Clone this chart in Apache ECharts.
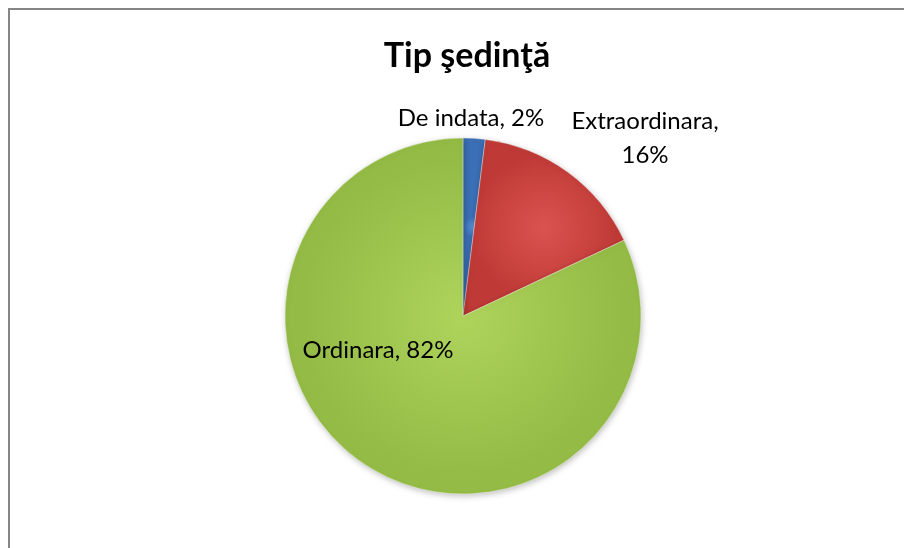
<!DOCTYPE html>
<html><head><meta charset="utf-8">
<script src="https://cdn.jsdelivr.net/npm/echarts@6/dist/echarts.min.js"></script>
<style>
html,body{margin:0;padding:0;background:#fff;}
#frame{position:absolute;left:8px;top:8px;width:1000px;height:700px;border:2px solid #868686;box-sizing:border-box;}
#c{position:absolute;left:0;top:0;width:904px;height:548px;}
</style></head>
<body>
<div id="frame"></div>
<div id="c"></div>
<script>
const title = 'Tip şedinţă';
const categories = ['De indata', 'Extraordinara', 'Ordinara'];
const values = [2, 16, 82];
const colors = [['#5d94d6', '#3b6fb6'], ['#db5350', '#bf3a36'], ['#aed45c', '#94bb45']];
const labelPos = [
  {x: 471, y: 118, text: '{b}, {d}%'},
  {x: 645, y: 138, text: '{b},\n{d}%'},
  {x: 378, y: 350, text: '{b}, {d}%'}
];

const chart = echarts.init(document.getElementById('c'));
const data = categories.map((n, i) => ({
  name: n, value: values[i],
  itemStyle: {
    color: {type: 'radial', x: 0.5, y: 0.5, r: 0.5,
      colorStops: [{offset: 0, color: colors[i][0]}, {offset: 0.9, color: colors[i][1]}, {offset: 1, color: colors[i][1]}]}
  },
  label: {formatter: labelPos[i].text.replace('{d}', String(values[i])).replace('{b}', n)}
}));
chart.setOption({
  animation: false,
  title: {text: title, left: 462, top: 34, textAlign: 'center',
    textStyle: {fontFamily: 'Lato, "Open Sans", sans-serif', fontSize: 34, fontWeight: 'bold', color: '#000'}},
  series: [{
    type: 'pie', center: [463, 316], radius: 178, startAngle: 90, clockwise: true,
    data: data,
    itemStyle: {borderColor: 'rgba(255,255,255,0.35)', borderWidth: 1,
      shadowBlur: 6, shadowColor: 'rgba(0,0,0,0.25)', shadowOffsetX: 1, shadowOffsetY: 2},
    label: {show: true, position: 'outside', fontFamily: 'Lato, "Open Sans", sans-serif', fontSize: 24, color: '#000', lineHeight: 34, align: 'center'},
    labelLine: {show: false},
    labelLayout: function (p) {
      const lp = labelPos[p.dataIndex];
      return {x: lp.x, y: lp.y, align: 'center', verticalAlign: 'middle'};
    },
    emphasis: {disabled: true}
  }]
});
</script>
</body></html>
